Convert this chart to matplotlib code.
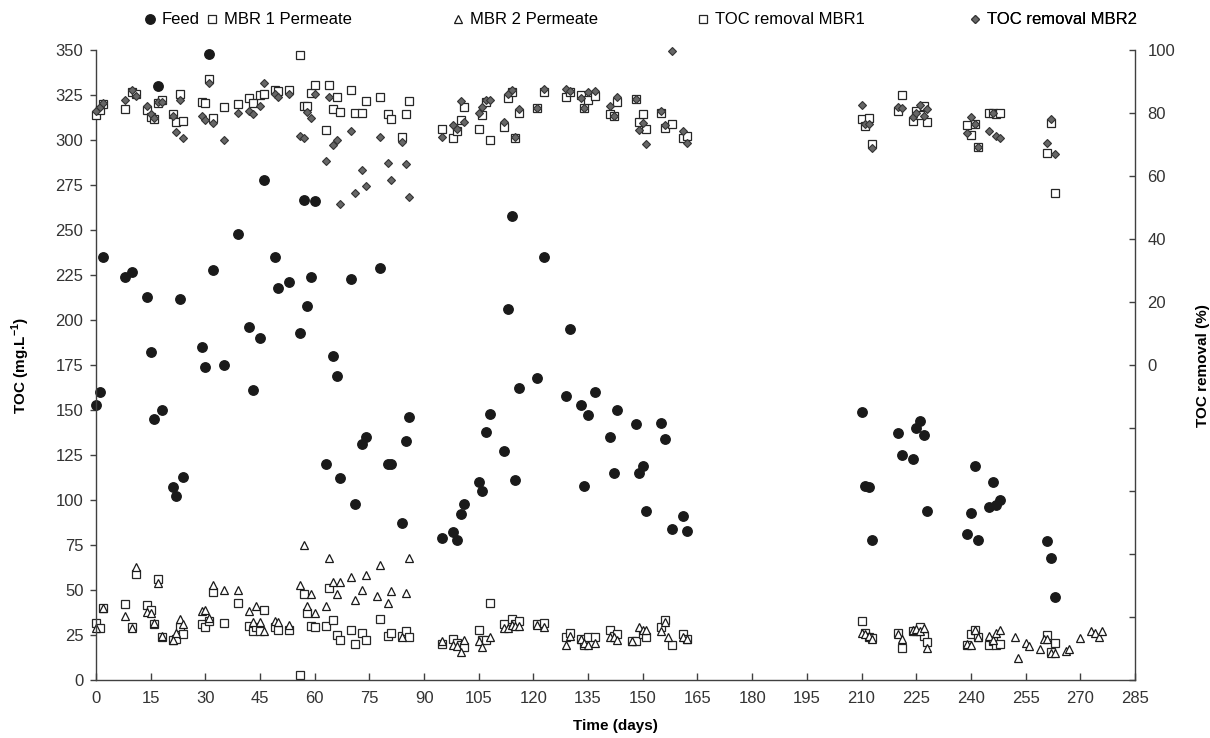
import numpy as np
import matplotlib.pyplot as plt
from matplotlib.ticker import FuncFormatter, MultipleLocator

plt.rcParams['font.family'] = ['Liberation Sans', 'DejaVu Sans']
plt.rcParams['mathtext.fontset'] = 'custom'
plt.rcParams['mathtext.rm'] = 'Liberation Sans'
plt.rcParams['mathtext.bf'] = 'Liberation Sans:bold'

###############################################################################
# Feed TOC (mg/L)
feed_day = [0, 1, 2, 8, 10, 14, 15, 16, 17, 18, 21, 22, 23, 24, 29, 30, 31, 32,
            35, 39, 42, 43, 45, 46, 49, 50, 53, 56, 57, 58, 59, 60, 63, 65, 66,
            67, 70, 71, 73, 74, 78, 80, 81, 84, 85, 86, 95, 98, 99, 100, 101,
            105, 106, 107, 108, 112, 113, 114, 115, 116, 121, 123, 129, 130,
            133, 134, 135, 137, 141, 142, 143, 148, 149, 150, 151, 155, 156,
            158, 161, 162, 210, 211, 212, 213, 220, 221, 224, 225, 226, 227,
            228, 239, 240, 241, 242, 245, 246, 247, 248, 261, 262, 263]
feed_toc = [153, 160, 235, 224, 227, 213, 182, 145, 330, 150, 107, 102, 212,
            113, 185, 174, 348, 228, 175, 248, 196, 161, 190, 278, 235, 218,
            221, 193, 267, 208, 224, 266, 120, 180, 169, 112, 223, 98, 131,
            135, 229, 120, 120, 87, 133, 146, 79, 82, 78, 92, 98, 110, 105,
            138, 148, 127, 206, 258, 111, 162, 168, 235, 158, 195, 153, 108,
            147, 160, 135, 115, 150, 142, 115, 119, 94, 143, 134, 84, 91, 83,
            149, 108, 107, 78, 137, 125, 123, 140, 144, 136, 94, 81, 93, 119,
            78, 96, 110, 97, 100, 77, 68, 46]

# MBR 1 permeate TOC (mg/L)
p1_day = [0, 1, 2, 8, 11, 10, 14, 15, 17, 16, 18, 21, 22, 23, 24, 29, 30, 31,
          32, 35, 39, 42, 43, 44, 45, 46, 49, 50, 53, 56, 57, 58, 59, 60, 63,
          64, 65, 66, 67, 70, 71, 73, 74, 78, 80, 81, 84, 85, 86, 95, 98, 99,
          100, 101, 105, 106, 107, 108, 112, 114, 115, 116, 121, 123, 129,
          130, 133, 134, 135, 137, 141, 142, 143, 147, 148, 150, 151, 155,
          156, 158, 161, 162, 210, 211, 212, 213, 220, 221, 224, 225, 226,
          227, 228, 239, 240, 241, 242, 245, 246, 247, 248, 261, 262, 263]
p1_toc = [31.5, 29, 40, 42, 58.7, 29.4, 41.7, 39, 56, 31, 24, 22, 23, 29.6,
          25.4, 31, 29.3, 32.8, 49, 31.5, 43, 30, 27, 29.6, 27, 39, 29.6, 28,
          27.6, 3, 47.6, 37, 30, 29.3, 30, 51, 33.5, 25, 22, 28, 20, 26, 22,
          34, 24.4, 26.3, 24.4, 27.2, 24, 20, 23, 20.4, 19.4, 18.5, 27.8, 22,
          22, 42.6, 31, 33.7, 31, 32.8, 31, 31.5, 23.7, 26, 22.6, 19.4, 23.7,
          23.7, 28, 24.4, 25.4, 21.7, 21.7, 25.6, 23.7, 29.6, 33.3, 19.4,
          25.4, 22.6, 32.8, 26, 23.7, 23.5, 26.3, 18, 27.4, 27.4, 29.6, 24.4,
          21.3, 19.4, 25.4, 28, 24, 19.4, 21.7, 19.4, 19.8, 25, 15.7, 20.7]

# MBR 2 permeate TOC (mg/L)
p2_day = [0, 2, 8, 11, 10, 14, 15, 17, 16, 18, 21, 22, 23, 24, 29, 30, 31, 32,
          35, 39, 42, 43, 44, 45, 46, 49, 50, 53, 56, 57, 58, 59, 60, 63, 64,
          65, 66, 67, 70, 71, 73, 74, 77, 78, 80, 81, 84, 85, 86, 95, 98, 99,
          100, 101, 105, 106, 108, 112, 113, 114, 115, 116, 121, 123, 129,
          130, 133, 134, 135, 137, 141, 142, 143, 147, 149, 150, 151, 155,
          156, 157, 161, 162, 210, 211, 212, 213, 220, 221, 224, 225, 226,
          227, 228, 239, 240, 241, 242, 245, 246, 247, 248, 252, 253, 255,
          256, 259, 260, 261, 262, 263, 266, 267, 270, 273, 274, 275, 276]
p2_toc = [29, 40, 35.5, 63, 29, 38, 37, 54, 31.5, 24.5, 22, 26, 33.7, 31,
          38.5, 38.8, 34.4, 52.6, 50, 50, 38.5, 32, 41, 32, 27, 33, 32, 30.3,
          52.8, 75, 41, 48, 37.4, 41, 67.6, 54.6, 48, 54.6, 57.4, 44.4, 50,
          58.3, 46.7, 63.7, 43, 49.4, 24, 48.6, 68, 21.7, 19.4, 19, 15.3, 22,
          21.7, 18.5, 23.7, 29, 28.7, 30.5, 30, 29.8, 30.5, 29.3, 19.4, 24.4,
          23, 20.4, 19.4, 20.7, 23.7, 24, 22.2, 21.7, 29.6, 27.8, 28, 27.2,
          32.5, 23.7, 23.7, 23, 26, 25.6, 24.4, 23, 25.6, 22.6, 27.8, 28.1,
          27, 28.7, 17.6, 19.8, 19.4, 28, 24, 24.4, 22.2, 26.3, 28, 23.7, 12,
          20.7, 19, 17, 22.6, 22.6, 15, 15, 16.3, 17.2, 23.5, 27, 26, 24, 27.4]

# TOC removal (%)
rem_day = [0, 1, 2, 8, 10, 11, 14, 15, 16, 17, 18, 21, 22, 23, 24, 29, 30, 31,
           32, 35, 39, 42, 43, 45, 46, 49, 50, 53, 56, 57, 58, 59, 60, 63, 64,
           65, 66, 67, 70, 71, 73, 74, 78, 80, 81, 84, 85, 86, 95, 98, 99, 100,
           101, 105, 106, 107, 108, 112, 113, 114, 115, 116, 121, 123, 129,
           130, 133, 134, 135, 137, 141, 142, 143, 148, 149, 150, 151, 155,
           156, 158, 161, 162, 210, 211, 212, 213, 220, 221, 224, 225, 226,
           227, 228, 239, 240, 241, 242, 245, 246, 247, 248, 261, 262, 263]
rem1 = [79.4, 81, 83, 81.3, 86.8, 86.2, 81, 78.8, 78.1, 83.1, 84.1, 79.7,
        77.1, 86.2, 77.6, 83.4, 83.1, 90.8, 78.6, 82, 82.8, 84.7, 83.1, 85.9,
        86, 87.3, 87, 87.5, 98.6, 82.2, 82.2, 86.4, 88.9, 74.8, 88.9, 81.3,
        85, 80.4, 87.3, 79.9, 80.2, 83.8, 85.2, 79.7, 78.3, 72.5, 79.7, 83.8,
        74.9, 72, 74.4, 77.8, 81.8, 74.9, 79.4, 83.5, 71.4, 75.7, 84.9, 86.8,
        72, 79.9, 81.7, 86.8, 85.2, 86.8, 85.7, 81.7, 84.1, 85.4, 79.6, 79,
        83.4, 84.4, 77.2, 79.6, 74.9, 79.9, 75.4, 76.7, 72, 72.8, 78.3, 76,
        78.6, 70.2, 80.6, 85.9, 77.6, 80.6, 79.4, 82.2, 77.2, 76.2, 73, 76.7,
        69.3, 79.9, 80.1, 79.7, 80.2, 67.4, 76.9, 54.5]
rem2 = [80.6, 81.8, 83.3, 84.3, 87.3, 85.4, 82.2, 79.7, 78.6, 83.6, 83.6, 79,
        74, 84.3, 72.2, 79.1, 77.8, 89.7, 76.9, 71.4, 79.9, 80.6, 79.6, 82.3,
        89.7, 86.2, 85.2, 86.2, 72.7, 72, 80.4, 78.6, 86, 64.8, 85.2, 69.8,
        71.4, 51.3, 74.4, 54.8, 62.1, 56.9, 72.3, 64.2, 58.7, 70.9, 63.7,
        53.4, 72.3, 76.2, 74.9, 83.8, 77.2, 80.1, 82, 84.1, 84.3, 77.2, 86,
        87.5, 72.3, 81.3, 81.7, 87.6, 87.6, 87.1, 84.9, 81.7, 86.6, 87.1,
        82.2, 79, 85, 84.5, 74.6, 76.9, 70.2, 80.6, 76.2, 99.8, 74.4, 70.6,
        82.5, 76.5, 76.5, 68.8, 81.8, 81.7, 78.8, 80.2, 82.5, 79, 81.3, 73.7,
        78.8, 76.7, 69.3, 74.3, 79.9, 72.7, 72, 70.4, 78, 67]

x_ticks = list(range(0, 286, 15))
###############################################################################
W, H = 1210, 738
fig = plt.figure(figsize=(W/100, H/100), dpi=100)
ax = fig.add_axes([0.0793, 0.0786, 0.8587, 0.8534])
ax2 = ax.twinx()

ink = '#1a1a1a'
grey = '#404040'

h1, = ax.plot(feed_day, feed_toc, 'o', ms=6.8, color=ink, mec=ink,
              clip_on=False, label='Feed')
h2, = ax.plot(p1_day, p1_toc, 's', ms=6.2, mfc='white', mec='#262626', mew=0.9,
              clip_on=False, label='MBR 1 Permeate')
h3, = ax.plot(p2_day, p2_toc, '^', ms=6.2, mfc='white', mec=ink, mew=0.9,
              clip_on=False, label='MBR 2 Permeate')
h4, = ax2.plot(rem_day, rem1, 's', ms=6.2, mfc='white', mec='#262626', mew=0.9,
               clip_on=False, label='TOC removal MBR1')
h5, = ax2.plot(rem_day, rem2, 'D', ms=4.4, mfc='#666666', mec='#333333', mew=0.8,
               clip_on=False, label='TOC removal MBR2')

# left axis
ax.set_xlim(0, 285)
ax.set_ylim(0, 350)
ax.set_xticks(x_ticks)
ax.yaxis.set_major_locator(MultipleLocator(25))
ax.tick_params(axis='x', direction='in', length=5, width=1, color=grey,
               labelsize=12, labelcolor='#333333', pad=8)
ax.tick_params(axis='y', direction='out', length=4, width=1, color=grey,
               labelsize=12, labelcolor='#333333', pad=5)
ax.set_xlabel('Time (days)', fontsize=11, fontweight='bold', labelpad=9)
ax.set_ylabel(r'TOC (mg.L$^{\mathbf{-1}}$)', fontsize=11, fontweight='bold',
              labelpad=17)

# right axis, only the positive half is labelled
ax2.set_ylim(-100, 100)
ax2.yaxis.set_major_locator(MultipleLocator(20))
ax2.yaxis.set_major_formatter(FuncFormatter(lambda v, p: '%d' % v if v >= 0 else ''))
ax2.tick_params(axis='y', direction='in', length=4, width=1, color=grey,
                labelsize=12, labelcolor='#333333', pad=9)
ax2.set_ylabel('TOC removal (%)', fontsize=11, fontweight='bold', labelpad=15)

for a in (ax, ax2):
    a.spines['top'].set_visible(False)
    for s in a.spines.values():
        s.set_color(grey)
        s.set_linewidth(1)
ax.spines['right'].set_visible(False)
ax2.spines['left'].set_visible(False)
ax2.spines['bottom'].set_visible(False)

# legend entries placed one by one along the top (marker centre, pixels)
leg_x = [150, 212, 458, 703, 975]
fs = 12
hl = 0.8
for h, xm in zip([h1, h2, h3, h4, h5], leg_x):
    x0 = xm - hl * fs * 100 / 72 / 2
    lg = ax2.legend(handles=[h], loc='center left',
                    bbox_to_anchor=(x0 / W, 1 - 20 / H),
                    bbox_transform=fig.transFigure, frameon=False, fontsize=fs,
                    handlelength=hl, handletextpad=0.3, borderpad=0,
                    borderaxespad=0)
    ax2.add_artist(lg)

fig.savefig('out.png', dpi=100)
